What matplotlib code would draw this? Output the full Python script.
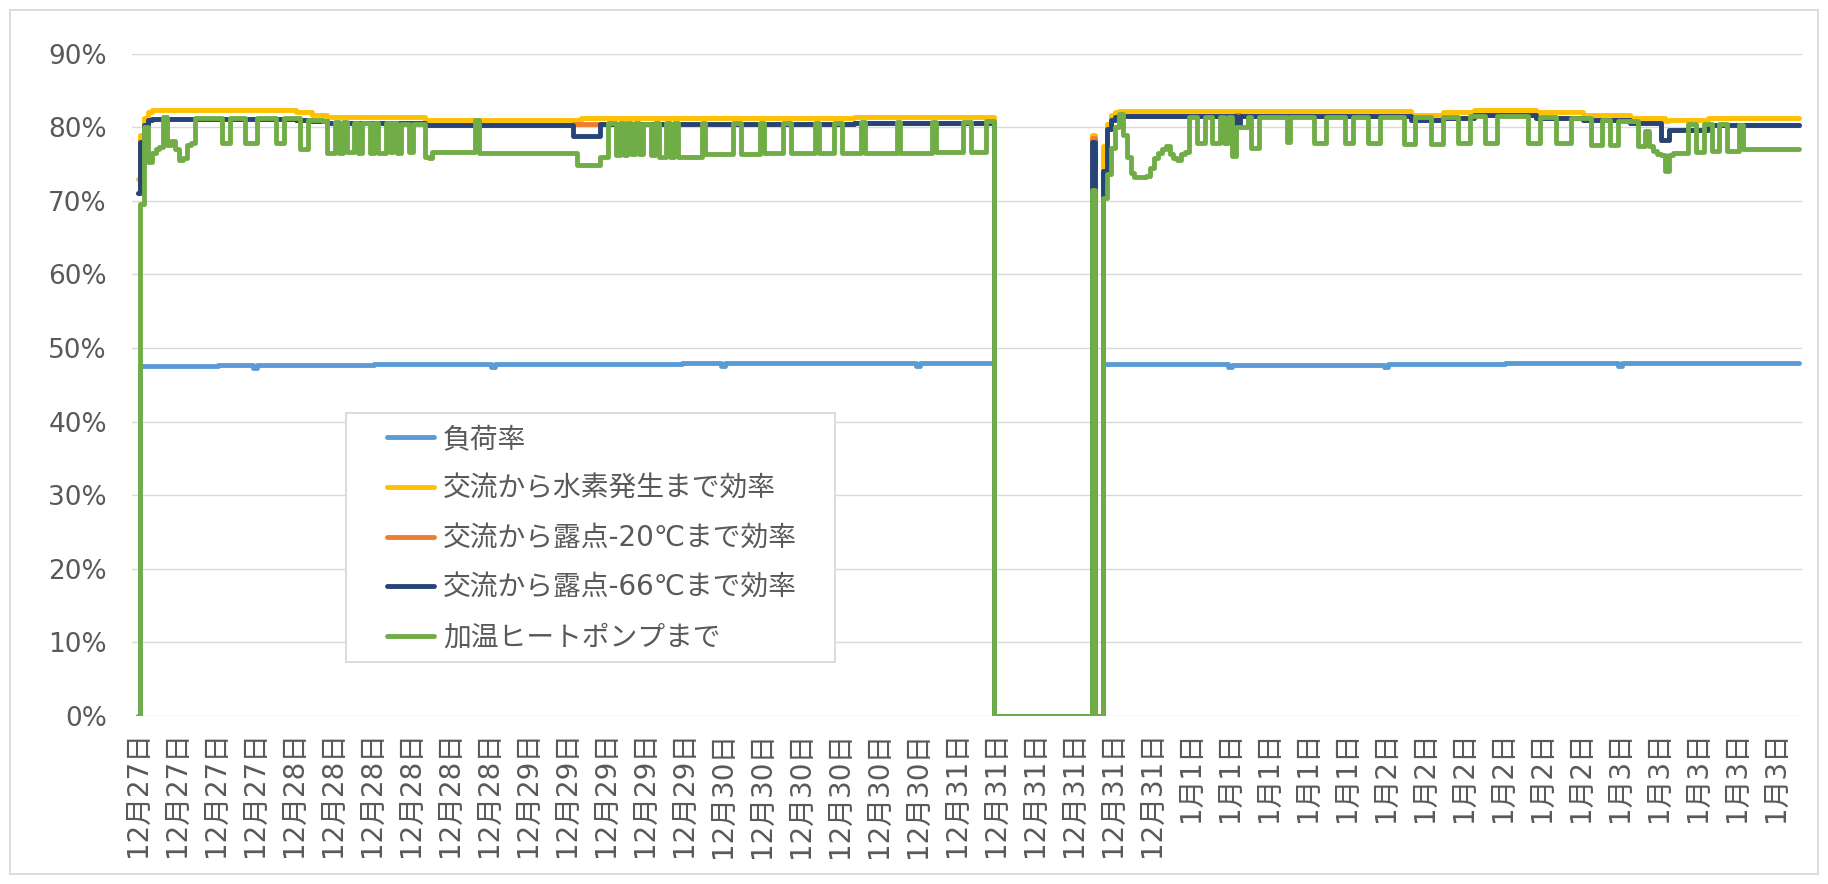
import numpy as np
import matplotlib
matplotlib.use("Agg")
import matplotlib.pyplot as plt
from matplotlib.patches import Rectangle
from matplotlib.ticker import PercentFormatter

plt.rcParams['font.family'] = ['DejaVu Sans', 'Noto Sans CJK JP']

# ---- data -------------------------------------------------------------
# Each series is stored run-length encoded as (number of samples, percent).
series_names = ["負荷率", "交流から水素発生まで効率", "交流から露点-20℃まで効率",
                "交流から露点-66℃まで効率", "加温ヒートポンプまで"]
series_colors = ["#5B9BD5", "#FFC000", "#ED7D31", "#264478", "#70AD47"]

load_runs = [(1, 0.0), (20, 47.6), (9, 47.7), (1, 47.3), (30, 47.7), (30, 47.8),
             (1, 47.4), (48, 47.8), (10, 47.9), (1, 47.5), (49, 47.9), (1, 47.5),
             (19, 47.9), (25, 0.0), (1, 47.5), (2, 0.0), (32, 47.8), (1, 47.4),
             (39, 47.7), (1, 47.4), (30, 47.8), (29, 47.9), (1, 47.5), (29, 47.9),
             (17, 48.0)]

h2_runs = [(1, 73.0), (1, 79.0), (1, 81.2), (1, 82.0), (37, 82.4), (4, 82.0),
           (4, 81.7), (25, 81.4), (40, 81.0), (30, 81.2), (40, 81.3), (36, 81.4),
           (25, 0.0), (1, 79.0), (2, 0.0), (1, 77.5), (1, 80.5), (1, 81.6),
           (1, 82.0), (75, 82.2), (8, 81.7), (8, 82.0), (16, 82.4), (12, 82.0),
           (12, 81.6), (9, 81.2), (1, 80.8), (10, 81.0), (24, 81.2)]

dp20_runs = [(1, 71.0), (1, 78.0), (1, 80.3), (1, 81.0), (37, 81.1), (4, 81.0),
             (4, 80.8), (25, 80.6), (38, 80.3), (7, 80.5), (25, 80.4), (40, 80.5),
             (36, 80.6), (25, 0.0), (1, 78.5), (2, 0.0), (1, 74.0), (1, 79.8),
             (1, 81.0), (1, 81.4), (30, 81.5), (1, 81.6), (44, 81.5), (8, 81.0),
             (8, 81.3), (16, 81.6), (12, 81.3), (12, 81.0), (8, 80.6), (2, 78.3),
             (10, 79.6), (24, 80.3)]

dp66_runs = [(1, 71.0), (1, 78.0), (1, 80.3), (1, 81.0), (37, 81.1), (4, 81.0),
             (4, 80.8), (25, 80.6), (38, 80.3), (7, 78.8), (25, 80.4), (40, 80.5),
             (36, 80.6), (25, 0.0), (1, 78.0), (2, 0.0), (1, 74.0), (1, 79.8),
             (1, 81.0), (1, 81.4), (30, 81.5), (1, 80.5), (44, 81.5), (8, 81.0),
             (8, 81.3), (16, 81.6), (12, 81.3), (12, 81.0), (8, 80.6), (2, 78.3),
             (10, 79.6), (24, 80.3)]

heat_runs = [
    (1, 0.0), (1, 69.5), (1, 80.0), (1, 75.3), (1, 76.5), (1, 77.0), (1, 77.3),
    (1, 81.4), (1, 77.6), (1, 78.1), (1, 77.0), (1, 75.6), (1, 75.8), (1, 77.6),
    (1, 77.9), (7, 81.3), (2, 77.9), (4, 81.3), (3, 77.9), (5, 81.3), (2, 77.9),
    (4, 81.3), (2, 77.0), (4, 81.0),
    (1, 80.8), (2, 76.5), (1, 80.7), (1, 76.5), (1, 80.7), (2, 76.6), (1, 80.6),
    (1, 76.5), (2, 80.6), (1, 76.5), (1, 80.6), (2, 76.5), (1, 80.6), (1, 76.6),
    (1, 80.6), (1, 76.5), (2, 80.5), (1, 76.6), (3, 80.5),
    (1, 76.0), (1, 75.8), (11, 76.6), (1, 81.0), (25, 76.5), (6, 74.8), (2, 76.0),
    (2, 80.6), (1, 76.2), (1, 80.6), (1, 76.2), (1, 80.6), (1, 76.3), (1, 80.6),
    (1, 76.4), (2, 80.5), (1, 76.2), (1, 80.6), (2, 76.0), (1, 80.6), (1, 76.0),
    (1, 80.6), (6, 76.0), (1, 80.6), (7, 76.3), (2, 80.6), (5, 76.4), (1, 80.6),
    (5, 76.5), (2, 80.6), (6, 76.5), (1, 80.6), (4, 76.5), (2, 80.6), (5, 76.5),
    (1, 80.7), (8, 76.5), (1, 80.7), (8, 76.5), (1, 80.7), (7, 76.6), (2, 80.7),
    (4, 76.6), (2, 80.9),
    (25, 0.0), (1, 71.5), (2, 0.0),
    (1, 70.4), (1, 73.6), (1, 77.2), (1, 80.0), (1, 81.8), (1, 79.0), (1, 76.0),
    (1, 73.8), (1, 73.3), (1, 73.2), (1, 73.3), (1, 73.4), (1, 74.5), (1, 75.8),
    (1, 76.5), (1, 77.0), (1, 77.4), (1, 76.4), (1, 75.8), (1, 75.6), (1, 76.3),
    (1, 76.6),
    (2, 81.4), (2, 77.8), (2, 81.4), (2, 77.8), (1, 81.4), (1, 77.8), (1, 81.4),
    (1, 76.1), (3, 80.0), (1, 81.4), (2, 77.2), (7, 81.4), (1, 78.0), (6, 81.4),
    (3, 77.8), (5, 81.4), (2, 77.8), (4, 81.4), (3, 77.8), (6, 81.4), (3, 77.7),
    (4, 81.4), (3, 77.7), (4, 81.4), (3, 77.8), (4, 81.5), (3, 77.8), (8, 81.5),
    (3, 77.9), (4, 81.4), (4, 77.8), (5, 81.2), (3, 77.6), (2, 81.0), (2, 77.6),
    (5, 80.8), (2, 77.4),
    (1, 79.5), (1, 77.5), (1, 76.8), (1, 76.4), (1, 76.2), (1, 74.0), (1, 76.2),
    (4, 76.5), (2, 80.4), (2, 76.6), (2, 80.4), (2, 76.7), (2, 80.4), (3, 76.7),
    (1, 80.3), (15, 77.1)]

# category labels: one label every `samples_per_tick` samples
samples_per_tick = 10
tick_days = ["12月27日", "12月28日", "12月29日", "12月30日", "12月31日",
             "1月1日", "1月2日", "1月3日"]
tick_counts = [4, 6, 5, 6, 6, 5, 6, 5]


def decode(runs):
    counts = [c for c, _ in runs]
    values = [v for _, v in runs]
    return np.repeat(values, counts)


all_series = [decode(r) for r in (load_runs, h2_runs, dp20_runs, dp66_runs, heat_runs)]
n_samples = len(all_series[0])
for s in all_series:
    if len(s) != n_samples:
        raise ValueError("series length mismatch: %d vs %d" % (len(s), n_samples))

tick_labels = [d for d, c in zip(tick_days, tick_counts) for _ in range(c)]
tick_pos = np.arange(len(tick_labels)) * samples_per_tick

# ---- figure -----------------------------------------------------------
W, H = 1828, 884
fig = plt.figure(figsize=(W / 100, H / 100), dpi=100)
fig.patch.set_facecolor("white")

ax_left, ax_right, ax_top, ax_bottom = 132, 1802, 53.6, 716
ax = fig.add_axes([ax_left / W, (H - ax_bottom) / H,
                   (ax_right - ax_left) / W, (ax_bottom - ax_top) / H])

x = np.arange(n_samples)
lines = []
for vals, name, col in zip(all_series, series_names, series_colors):
    ln, = ax.plot(x, vals, color=col, lw=3.5, label=name, drawstyle="steps-mid",
                  solid_joinstyle="round", solid_capstyle="round")
    lines.append(ln)

px_per_sample = 3.9
ax.set_xlim(-(138 - ax_left) / px_per_sample, (ax_right - 138) / px_per_sample)
ax.set_ylim(0, 90)
ax.set_yticks(np.arange(0, 91, 10))
ax.yaxis.set_major_formatter(PercentFormatter(decimals=0))
ax.set_xticks(tick_pos)
ax.set_xticklabels(tick_labels, rotation=90, fontsize=20, color="#595959")
ax.tick_params(axis="x", length=0, pad=11)
ax.tick_params(axis="y", length=0, pad=18, labelsize=19, labelcolor="#595959")
ax.grid(axis="y", color="#D9D9D9", lw=1.0)
ax.set_axisbelow(True)
for sp in ax.spines.values():
    sp.set_visible(False)

# legend with its own box
box_l, box_t, box_r, box_b = 346, 413, 835, 662
fig.patches.append(Rectangle((box_l / W, 1 - box_b / H), (box_r - box_l) / W,
                             (box_b - box_t) / H, transform=fig.transFigure,
                             facecolor="white", edgecolor="#D9D9D9", lw=1.3,
                             zorder=5))
leg = fig.legend(handles=lines, loc="upper left",
                 bbox_to_anchor=(387 / W, 1 - 425 / H),
                 bbox_transform=fig.transFigure, frameon=False, fontsize=20,
                 borderpad=0, borderaxespad=0, handlelength=1.7,
                 handletextpad=0.32, labelspacing=0.78)
leg.set_zorder(6)
for t in leg.get_texts():
    t.set_color("#595959")

# chart border
fig.patches.append(Rectangle((10 / W, 10 / H), (W - 20) / W, (H - 20) / H,
                             transform=fig.transFigure, facecolor="none",
                             edgecolor="#D9D9D9", lw=1.3, zorder=0))

fig.savefig("out.png", dpi=100)
